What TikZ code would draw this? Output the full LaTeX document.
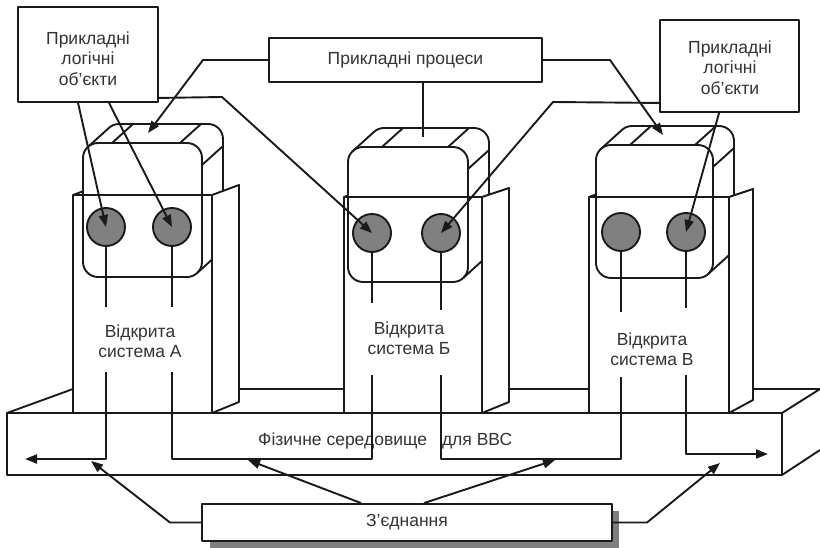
\documentclass[tikz,border=0pt]{standalone}
\usepackage{fontspec}
\setmainfont{Liberation Sans}
\usetikzlibrary{arrows.meta}

\definecolor{inkc}{HTML}{1A1A1A}
\definecolor{txtc}{HTML}{333333}
\definecolor{knob}{HTML}{808080}
\definecolor{shadowgray}{HTML}{7F7F7F}

\tikzset{
  ln/.style={draw=inkc, line width=1.9pt, line join=round},
  arr/.style={-{Triangle[length=12pt,width=9pt]}},
  lbl/.style={text=txtc, font=\fontsize{17.5}{20.5}\selectfont, align=center, inner sep=0pt},
  frame/.style={ln, fill=white, inner sep=0pt, text=txtc, font=\fontsize{17.5}{20.5}\selectfont},
  knobc/.style={circle, ln, fill=knob, minimum size=38pt, inner sep=0pt},
}

% rounded 3D head of an open system:
% #1 left, #2 right, #3 top, #4 bottom of the front face,
% #5 lower end of the back edge, #6/#7 stripe offsets, #8 x of the panel's right edge
\newcommand\headbox[8]{%
  \draw[ln, rounded corners=15pt] (#1,#3) rectangle (#2,#4);
  \draw[ln] ({#1+4.4},{#3+4.4}) -- ({#1+25.4},{#3-14.6})
    .. controls ({#1+28.2},{#3-17.4}) and ({#1+32},{#3-19}) .. ({#1+36},{#3-19})
    -- ({#2+6},{#3-19})
    .. controls ({#2+14.3},{#3-19}) and ({#2+21},{#3-12.3}) .. ({#2+21},{#3-4})
    -- ({#2+21},#5);
  \draw[ln] ({#1+#6},#3) -- ({#1+#6+21},{#3-19});
  \draw[ln] ({#2-#7},#3) -- ({#2-#7+21},{#3-19});
  \draw[ln] (#2,{#3+22}) -- ({#2+21},{#3+3});
  \draw[ln] ({#2-4.4},{#4-4.4}) -- (#8,{#4-4.4-19*(#8-#2+4.4)/21});
}

% front panel with its right side face:
% #1 left, #2 right, #3 top, #4 side x, #5 side top, #6 side bottom, #7 head left
\newcommand\panelbox[7]{%
  \draw[ln] (#1,413) -- (#1,#3) -- (#2,#3) -- (#2,413);
  \draw[ln] (#2,#3) -- (#4,#5) -- (#4,#6) -- (#2,413);
  \draw[ln] (#1,#3) -- (#7,{#3-(#7-#1)*10/27});
}

\begin{document}
\begin{tikzpicture}[x=1pt, y=-1pt]
  \useasboundingbox (0,0) rectangle (820,548);

  % physical medium slab
  \draw[ln] (7,413) rectangle (782,475);
  \draw[ln] (7,413) -- (73,389);
  \draw[ln] (239,389) -- (344,389);
  \draw[ln] (509,389) -- (589,389);
  \draw[ln] (753,389) -- (820,389);
  \draw[ln] (782,413) -- (820,389);
  \draw[ln] (782,475) -- (820,450);
  \node[lbl, anchor=west] (medium) at (258,440.5) {Фізичне середовище\hspace{15pt}для ВВС};

  % open systems
  \headbox{83}{202}{143}{277}{191}{29}{22}{212}
  \panelbox{73}{212}{195}{239}{185}{402}{83}
  \headbox{348}{468}{147}{282}{194}{34}{20}{482}
  \panelbox{344}{482}{197}{509}{188}{402}{348}
  \headbox{596}{713}{145}{278}{195}{34}{18}{729}
  \panelbox{589}{729}{197}{753}{189}{400}{596}

  \node[lbl] (sysA) at (140,341) {Відкрита\\система А};
  \node[lbl] (sysB) at (409,338) {Відкрита\\система Б};
  \node[lbl] (sysC) at (652,349) {Відкрита\\система В};

  % logical objects
  \node[knobc] (a1) at (106,227) {};
  \node[knobc] (a2) at (172,227) {};
  \node[knobc] (b1) at (372,233) {};
  \node[knobc] (b2) at (441,233) {};
  \node[knobc] (c1) at (621,232) {};
  \node[knobc] (c2) at (686,232) {};

  \coordinate (a1s) at (106,307);
  \coordinate (a2s) at (172,307);
  \coordinate (b1s) at (372,303);
  \coordinate (b2s) at (441,310);
  \coordinate (c1s) at (621,312);
  \coordinate (c2s) at (686,308);
  \foreach \k in {a1,a2,b1,b2,c1,c2} \draw[ln] (\k) -- (\k s);

  % links through the medium
  \coordinate (a1b) at (106,372);
  \coordinate (a2b) at (172,372);
  \coordinate (b1b) at (372,375);
  \coordinate (b2b) at (441,375);
  \coordinate (c1b) at (621,377);
  \coordinate (c2b) at (686,375);
  \coordinate (endL) at (25,459);
  \coordinate (endR) at (768,454);
  \draw[ln, arr] (a1b) |- (endL);
  \draw[ln] (a2b) |- (372,459) -- (b1b);
  \draw[ln] (b2b) |- (621,459) -- (c1b);
  \draw[ln, arr] (c2b) |- (endR);

  % label boxes
  \node[frame, minimum width=140pt, minimum height=95pt] (lobjL) at (88,54.5) {};
  \node[lbl] (lobjLt) at (88,58.5) {Прикладні\\логічні\\об’єкти};
  \node[frame, minimum width=139pt, minimum height=92pt] (lobjR) at (729.5,66) {};
  \node[lbl] (lobjRt) at (730,67.5) {Прикладні\\логічні\\об’єкти};
  \node[frame, minimum width=273pt, minimum height=44pt] (proc) at (405.5,60) {Прикладні процеси};

  \fill[shadowgray] (210,511) rectangle (619,548);
  \node[frame, minimum width=410pt, minimum height=37pt] (conn) at (407,522.5) {З’єднання};

  % pointers from the application processes
  \coordinate (headA) at (148,133);
  \coordinate (headB) at (423,137);
  \coordinate (headC) at (663,135);
  \draw[ln, arr] (proc.west) -- (203,60) -- (headA);
  \draw[ln] ([xshift=17.5pt]proc.south) -- (headB);
  \draw[ln, arr] (proc.east) -- (610,60) -- (headC);

  % pointers from the logical object boxes
  \draw[ln, arr] ([xshift=61pt]lobjL.south west) -- (a1.center);
  \draw[ln, arr] ([xshift=92pt]lobjL.south west) -- (a2.center);
  \draw[ln, arr] ([yshift=5pt]lobjL.south east) -- (222,97) -- (b1.center);
  \draw[ln, arr] ([yshift=10pt]lobjR.south west) -- (553,102) -- (b2.center);
  \draw[ln, arr] ([xshift=60pt]lobjR.south west) -- (c2.center);

  % pointers from the connection box
  \coordinate (link1) at (91,461);
  \coordinate (link2) at (248,460);
  \coordinate (link3) at (555,460);
  \coordinate (link4) at (720,463);
  \draw[ln, arr] (conn.west) -- (170,522.5) -- (link1);
  \draw[ln, arr] ([xshift=160pt]conn.north west) -- (link2);
  \draw[ln, arr] ([xshift=223pt]conn.north west) -- (link3);
  \draw[ln, arr] (conn.east) -- (647,522.5) -- (link4);
\end{tikzpicture}
\end{document}
